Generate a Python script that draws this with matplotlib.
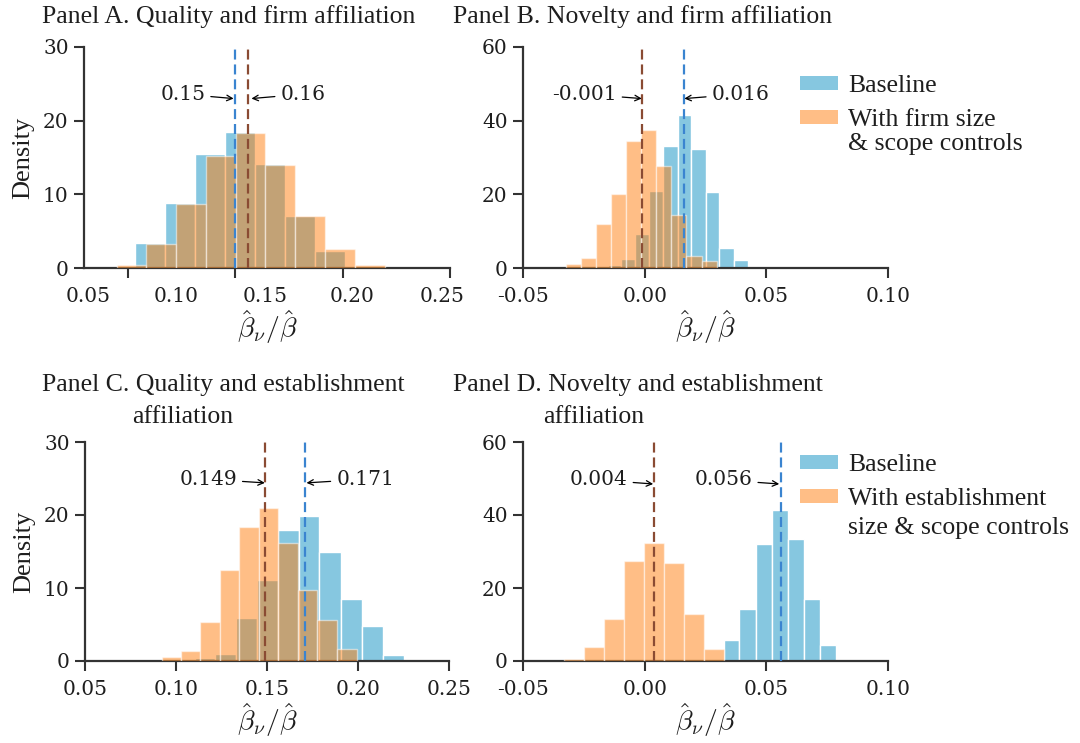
import matplotlib
matplotlib.use("Agg")
import matplotlib.pyplot as plt
from matplotlib.patches import Patch

# ---------------- data ----------------
# Panel A: Quality and firm affiliation
a_base_edges = [0.0894, 0.1034, 0.1174, 0.1314, 0.1453, 0.1593, 0.1733, 0.1873, 0.2013, 0.2152]
a_base_dens = [0.2, 3.35, 8.8, 15.5, 18.4, 14.1, 7.0, 2.3, 0.3]
a_ctrl_edges = [0.0949, 0.1085, 0.1225, 0.1365, 0.1505, 0.1640, 0.1780, 0.1920, 0.2059, 0.2199]
a_ctrl_dens = [0.4, 3.2, 8.7, 15.2, 18.3, 14.0, 7.0, 2.6, 0.4]
a_lines = [0.150, 0.156]
a_line_labels = ["0.15", "0.16"]

# Panel B: Novelty and firm affiliation
b_base_edges = [-0.0150, -0.0096, -0.0038, 0.0018, 0.0075, 0.0137, 0.0191, 0.0250, 0.0307, 0.0366, 0.0424]
b_base_dens = [0.9, 2.5, 9.2, 20.9, 33.1, 41.5, 32.2, 20.5, 5.3, 2.2]
b_ctrl_edges = [-0.0324, -0.0262, -0.0201, -0.0139, -0.0078, -0.0014, 0.0048, 0.0109, 0.0171, 0.0235, 0.0296]
b_ctrl_dens = [1.1, 2.8, 12.0, 20.1, 34.6, 37.5, 27.7, 14.3, 3.35, 2.0]
b_lines = [0.016, -0.001]
b_line_labels = ["0.016", "-0.001"]

# Panel C: Quality and establishment affiliation
c_base_edges = [0.1104, 0.1214, 0.1328, 0.1443, 0.1562, 0.1676, 0.1788, 0.1907, 0.2024, 0.2140, 0.2253]
c_base_dens = [0.37, 0.96, 5.9, 11.1, 17.9, 19.8, 14.9, 8.5, 4.8, 0.8]
c_ctrl_edges = [0.0921, 0.1026, 0.1132, 0.1242, 0.1348, 0.1456, 0.1562, 0.1669, 0.1776, 0.1886, 0.1993]
c_ctrl_dens = [0.5, 1.4, 5.4, 12.4, 18.3, 20.9, 16.2, 9.7, 5.6, 1.6]
c_lines = [0.171, 0.149]
c_line_labels = ["0.171", "0.149"]

# Panel D: Novelty and establishment affiliation
d_base_edges = [0.0325, 0.0389, 0.0458, 0.0523, 0.0589, 0.0654, 0.0719, 0.0786]
d_base_dens = [5.75, 14.2, 32.0, 41.5, 33.3, 17.0, 4.4]
d_ctrl_edges = [-0.0332, -0.0250, -0.0168, -0.0085, -0.0003, 0.0078, 0.0161, 0.0243, 0.0325]
d_ctrl_dens = [0.55, 3.9, 11.4, 27.4, 32.3, 26.8, 12.9, 3.2]
d_lines = [0.056, 0.004]
d_line_labels = ["0.056", "0.004"]

quality_ticks = [0.05, 0.10, 0.15, 0.20, 0.25]
quality_tick_labels = ["0.05", "0.10", "0.15", "0.20", "0.25"]
novelty_ticks = [-0.05, 0.00, 0.05, 0.10]
novelty_tick_labels = ["-0.05", "0.00", "0.05", "0.10"]

titles = ["Panel A. Quality and firm affiliation",
          "Panel B. Novelty and firm affiliation",
          "Panel C. Quality and establishment",
          "Panel D. Novelty and establishment"]
title_cont = "affiliation"
legend_base = "Baseline"
legend_b = ["With firm size", "& scope controls"]
legend_d = ["With establishment", "size & scope controls"]

# ---------------- style ----------------
W, H = 1080, 743
BLUE = "#86C7E0"
ORANGE = "#FF7F0E"
LINE_BLUE = "#3A84D0"
LINE_BROWN = "#8A4B33"
SPINE = "#333333"
TXT = "#1e1e1e"
SERIF = ["Liberation Serif", "DejaVu Serif"]
NUMF = ["DejaVu Serif"]
TICK_FS = 14.5
ANN_FS = 14.5
TITLE_FS = 18.5
LEG_FS = 18.5

plt.rcParams["mathtext.fontset"] = "cm"

fig = plt.figure(figsize=(W / 100, H / 100), dpi=100)


def px_axes(x0, y0, x1, y1):
    return fig.add_axes([x0 / W, 1 - y1 / H, (x1 - x0) / W, (y1 - y0) / H])


axA = px_axes(84, 47, 450, 268)
axB = px_axes(523, 47, 888, 268)
axC = px_axes(85, 442, 449, 661)
axD = px_axes(523, 442, 888, 661)


def style(ax, ymax):
    for s in ["top", "right"]:
        ax.spines[s].set_visible(False)
    for s in ["left", "bottom"]:
        ax.spines[s].set_linewidth(1.6)
        ax.spines[s].set_color(SPINE)
    ax.tick_params(which="major", length=7, width=1.5, color=SPINE, pad=4,
                   labelsize=TICK_FS, labelcolor=TXT)
    ax.tick_params(axis="x", which="major", pad=7)
    ax.set_ylim(0, ymax)
    ax.set_yticks([0, ymax / 3, 2 * ymax / 3, ymax])
    ax.set_yticklabels([str(int(v)) for v in [0, ymax / 3, 2 * ymax / 3, ymax]],
                       fontfamily=NUMF)
    ax.set_xlabel(r"$\hat{\beta}_{\nu}/\hat{\beta}$", fontsize=20, color=TXT, labelpad=1)


def draw(ax, be, bd, ce, cd, lines, labels, ann):
    ax.hist(be[:-1], bins=be, weights=bd, color=BLUE, edgecolor="white",
            linewidth=1.0, zorder=2)
    ax.hist(ce[:-1], bins=ce, weights=cd, color=ORANGE, alpha=0.5,
            edgecolor="white", linewidth=1.0, zorder=3)
    ax.axvline(lines[0], color=LINE_BLUE, lw=1.6, ls=(0, (4.5, 2.2)), zorder=4)
    ax.axvline(lines[1], color=LINE_BROWN, lw=1.6, ls=(0, (4.5, 2.2)), zorder=4)
    for (lx, ty, tx, ha), lab in zip(ann, labels):
        ax.annotate(lab, xy=(lx, ty[1]), xytext=(tx, ty[0]), ha=ha, va="center",
                    fontsize=ANN_FS, fontfamily=NUMF, color=TXT, zorder=5,
                    arrowprops=dict(arrowstyle="->", color="black", lw=0.9,
                                    shrinkA=2, shrinkB=0, mutation_scale=10))


# Panel A
style(axA, 30)
axA.set_xlim(0.0795, 0.25)
axA.set_xticks([0.10, 0.15, 0.20, 0.25])
axA.tick_params(axis="x", which="major", labelbottom=False)
a_label_pos = [0.0815, 0.1224, 0.1639, 0.2046, 0.2465]
axA.set_xticks(a_label_pos, labels=quality_tick_labels, minor=True, fontfamily=NUMF)
axA.tick_params(axis="x", which="minor", length=0, pad=14, labelsize=TICK_FS,
                labelcolor=TXT)
draw(axA, a_base_edges, a_base_dens, a_ctrl_edges, a_ctrl_dens, a_lines, a_line_labels,
     [(0.1492, (23.6, 23.0), 0.136, "right"), (0.1575, (23.6, 23.0), 0.171, "left")])

# Panel B
style(axB, 60)
axB.set_xlim(-0.05, 0.10)
axB.set_xticks(novelty_ticks, labels=novelty_tick_labels, fontfamily=NUMF)
draw(axB, b_base_edges, b_base_dens, b_ctrl_edges, b_ctrl_dens, b_lines, b_line_labels,
     [(0.0163, (47.2, 46.0), 0.0275, "left"), (-0.0012, (47.2, 46.0), -0.0115, "right")])

# Panel C
style(axC, 30)
axC.set_xlim(0.05, 0.25)
axC.set_xticks(quality_ticks, labels=quality_tick_labels, fontfamily=NUMF)
draw(axC, c_base_edges, c_base_dens, c_ctrl_edges, c_ctrl_dens, c_lines, c_line_labels,
     [(0.1717, (24.9, 24.4), 0.188, "left"), (0.1488, (24.9, 24.4), 0.1335, "right")])

# Panel D
style(axD, 60)
axD.set_xlim(-0.05, 0.10)
axD.set_xticks(novelty_ticks, labels=novelty_tick_labels, fontfamily=NUMF)
draw(axD, d_base_edges, d_base_dens, d_ctrl_edges, d_ctrl_dens, d_lines, d_line_labels,
     [(0.0553, (49.6, 48.5), 0.0443, "right"), (0.0035, (49.6, 48.5), -0.007, "right")])

for ax in (axA, axC):
    ax.set_ylabel("Density", fontsize=19, fontfamily=SERIF, color=TXT, labelpad=6)

# titles
def ftext(x, y, s, **kw):
    fig.text(x / W, 1 - y / H, s, fontsize=TITLE_FS, fontfamily=SERIF, color=TXT,
             va="baseline", ha="left", **kw)

ftext(42, 23, titles[0])
ftext(453, 23, titles[1])
ftext(42, 391, titles[2])
ftext(132, 423, title_cont)
ftext(453, 391, titles[3])
ftext(543, 423, title_cont)

# legends
def legend(ax, labels, top_px, cont_px):
    handles = [Patch(facecolor=BLUE, edgecolor="none"),
               Patch(facecolor=ORANGE, alpha=0.5, edgecolor="none")]
    ax.legend(handles, labels[:2], loc="upper left",
              bbox_to_anchor=(800 / W, 1 - top_px / H), bbox_transform=fig.transFigure,
              frameon=False, borderpad=0, borderaxespad=0, handlelength=1.48,
              handleheight=0.47, handletextpad=0.39, labelspacing=0.47,
              prop={"family": SERIF, "size": LEG_FS}, labelcolor=TXT)
    fig.text(848 / W, 1 - cont_px / H, labels[2], fontsize=LEG_FS, fontfamily=SERIF,
             color=TXT, va="baseline", ha="left")

legend(axB, [legend_base] + legend_b, 75, 150)
legend(axD, [legend_base] + legend_d, 454, 534)

fig.savefig("out.png", dpi=100)
